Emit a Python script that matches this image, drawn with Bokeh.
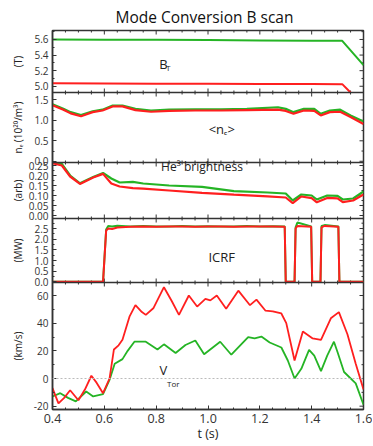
from math import pi
from bokeh.plotting import figure
from bokeh.layouts import row
from bokeh.models import Range1d, FixedTicker, NumeralTickFormatter, Label, Span
from bokeh.core.properties import value
from bokeh.embed import file_html
from bokeh.resources import INLINE

# ---------------- data ----------------
# B_T (T)
bt_t_green = [0.40, 0.60, 0.80, 1.00, 1.20, 1.40, 1.518, 1.60]
bt_green = [5.600, 5.597, 5.595, 5.592, 5.588, 5.585, 5.583, 5.27]
bt_t_red = [0.40, 0.60, 0.80, 1.00, 1.20, 1.40, 1.518, 1.55]
bt_red = [5.040, 5.036, 5.033, 5.032, 5.030, 5.028, 5.027, 4.92]

# <n_e> (10^20/m^3)
ne_t = [0.40, 0.442, 0.47, 0.51, 0.555, 0.593, 0.632, 0.67, 0.72, 0.78, 0.85, 0.95,
        1.05, 1.15, 1.27, 1.30, 1.33, 1.37, 1.41, 1.435, 1.47, 1.51, 1.55, 1.60]
ne_green = [1.39, 1.28, 1.20, 1.13, 1.22, 1.26, 1.36, 1.36, 1.28, 1.24, 1.26, 1.27,
            1.27, 1.28, 1.32, 1.28, 1.20, 1.28, 1.28, 1.16, 1.24, 1.26, 1.12, 0.97]
ne_red = [1.37, 1.26, 1.17, 1.10, 1.20, 1.24, 1.34, 1.34, 1.25, 1.21, 1.23, 1.24,
          1.24, 1.25, 1.26, 1.23, 1.16, 1.24, 1.23, 1.12, 1.20, 1.21, 1.08, 0.91]

# He3 brightness (arb)
he_t = [0.40, 0.436, 0.468, 0.506, 0.557, 0.595, 0.627, 0.659, 0.71, 0.75, 0.85, 0.977,
        1.10, 1.23, 1.30, 1.327, 1.36, 1.40, 1.42, 1.46, 1.50, 1.52, 1.56, 1.60]
he_green = [0.265, 0.258, 0.200, 0.161, 0.193, 0.213, 0.185, 0.165, 0.168, 0.160, 0.150, 0.143,
            0.122, 0.115, 0.110, 0.075, 0.105, 0.100, 0.080, 0.100, 0.098, 0.080, 0.085, 0.120]
he_red = [0.262, 0.250, 0.195, 0.158, 0.190, 0.208, 0.160, 0.145, 0.137, 0.134, 0.125, 0.113,
          0.104, 0.096, 0.090, 0.062, 0.095, 0.087, 0.066, 0.088, 0.086, 0.067, 0.075, 0.105]

# ICRF (MW)
icrf_t = [0.40, 0.595, 0.607, 0.615, 0.63, 0.65, 0.70, 0.75, 0.80, 0.85, 0.90, 0.95, 1.00,
          1.05, 1.10, 1.15, 1.20, 1.25, 1.296, 1.300, 1.334, 1.338, 1.345, 1.398, 1.402,
          1.434, 1.438, 1.45, 1.503, 1.507, 1.60]
icrf_green = [0, 0, 2.45, 2.62, 2.60, 2.63, 2.60, 2.62, 2.60, 2.60, 2.62, 2.60, 2.61,
              2.60, 2.60, 2.62, 2.60, 2.61, 2.60, 0, 0, 2.55, 2.78, 2.60, 0,
              0, 2.62, 2.66, 2.60, 0, 0]
icrf_red = [0, 0, 2.40, 2.50, 2.48, 2.55, 2.58, 2.60, 2.58, 2.60, 2.60, 2.58, 2.60,
            2.59, 2.58, 2.60, 2.59, 2.60, 2.58, 0, 0, 2.50, 2.62, 2.58, 0,
            0, 2.55, 2.62, 2.58, 0, 0]

# V_Tor (km/s)
vr_t = [0.40, 0.423, 0.445, 0.468, 0.50, 0.525, 0.55, 0.57, 0.595, 0.62, 0.637, 0.655,
        0.67, 0.697, 0.72, 0.745, 0.76, 0.79, 0.83, 0.86, 0.888, 0.926, 0.958, 0.99,
        1.009, 1.034, 1.07, 1.117, 1.162, 1.187, 1.222, 1.25, 1.283, 1.302, 1.334,
        1.366, 1.404, 1.436, 1.474, 1.505, 1.538, 1.57, 1.60]
vr = [-7, -18, -14, -8.5, -15.7, -8, 2, -3, -10.6, 0, 21, 24,
      28, 44.7, 53, 48, 46, 51, 66, 56, 46, 60, 52, 57.6,
      56.5, 60, 50.5, 63.5, 53, 57, 49, 48.5, 47, 40, 13,
      34, 29, 28, 43.5, 48, 32, 10.6, -8]
vg_t = [0.40, 0.43, 0.46, 0.49, 0.53, 0.557, 0.595, 0.62, 0.64, 0.67, 0.69, 0.716,
        0.76, 0.805, 0.83, 0.875, 0.913, 0.951, 0.985, 1.047, 1.09, 1.155, 1.18, 1.206,
        1.238, 1.283, 1.308, 1.334, 1.36, 1.39, 1.41, 1.436, 1.46, 1.486, 1.50, 1.525,
        1.57, 1.60]
vg = [-13, -10.6, -14, -16.5, -9.4, -13, -11.3, -1, 10.6, 14, 20, 26.6,
      26.6, 21, 24.7, 18.4, 24.2, 27.5, 17.5, 26.6, 17.2, 30, 29, 30.3,
      26, 22.4, 13, 0, 7, 20.7, 16.5, 5.4, 16.5, 26.6, 19, 4.7,
      -3.5, -19]

# ticks / labels
x_major = [0.4, 0.6, 0.8, 1.0, 1.2, 1.4, 1.6]
x_minor = [0.45, 0.5, 0.55, 0.65, 0.7, 0.75, 0.85, 0.9, 0.95, 1.05, 1.1, 1.15,
           1.25, 1.3, 1.35, 1.45, 1.5, 1.55]
bt_major = [5.0, 5.2, 5.4, 5.6]
bt_minor = [5.1, 5.3, 5.5, 5.7]
ne_major = [0.0, 0.5, 1.0, 1.5]
ne_minor = [0.25, 0.75, 1.25]
he_major = [0.00, 0.05, 0.10, 0.15, 0.20, 0.25]
he_minor = [0.025, 0.075, 0.125, 0.175, 0.225]
icrf_major = [0.0, 0.5, 1.0, 1.5, 2.0, 2.5]
icrf_minor = [0.25, 0.75, 1.25, 1.75, 2.25, 2.75]
v_major = [-20, 0, 20, 40, 60]
v_minor = [-10, 10, 30, 50]

title_text = "Mode Conversion B scan"
ylabels = ["(T)", "nₑ (10²⁰/m³)", "(arb)", "(MW)", "(km/s)"]
xlabel = "t (s)"

# ---------------- layout / style ----------------
RED = "#ff1f1f"
GREEN = "#25b425"
FONT = "Open Sans"
AX = "#333333"
X0, X1 = 0.4, 1.6
TOP, BOT, HT = 30, 37, 446
STRIP_W, MAIN_W = 25, 347

names = ["bt", "ne", "he", "icrf", "v"]
limits = [(4.92, 5.715), (-0.03, 1.68), (-0.015, 0.265), (-0.03, 2.97), (-22.4, 69.4)]
band_px = [62, 70, 56, 64, 127]          # relative panel heights, top -> bottom
fmts = ["{:.1f}", "{:.1f}", "{:.2f}", "{:.1f}", "{:.0f}"]
majors = [bt_major, ne_major, he_major, icrf_major, v_major]
minors = [bt_minor, ne_minor, he_minor, icrf_minor, v_minor]
H = sum(band_px)

# per-panel scales (extra y ranges mapped onto each band of the frame)
bands = {}
extra = {}
top_px = H
for name, h, (v0, v1) in zip(names, band_px, limits):
    lo, hi = top_px - h, top_px
    bands[name] = (lo, hi)
    k = (v1 - v0) / (hi - lo)
    extra[name] = Range1d(v0 - lo * k, v1 + (H - hi) * k)
    top_px -= h
base_y = Range1d(0, H)

p = figure(width=MAIN_W, height=HT, x_range=Range1d(X0, X1), y_range=base_y,
           output_backend="svg", toolbar_location=None,
           min_border_left=24, min_border_right=9, min_border_top=TOP, min_border_bottom=BOT)
p.extra_y_ranges = extra
p.grid.visible = False
p.outline_line_color = AX
p.outline_line_width = 1.5
p.background_fill_color = "white"
p.border_fill_color = "white"


def to_band(name, v):
    (v0, v1) = limits[names.index(name)]
    lo, hi = bands[name]
    return round(lo + (v - v0) / (v1 - v0) * (hi - lo), 4)


# left axis: one axis carrying every panel's ticks
maj_pos, min_pos, overrides = [], [], {}
for name, maj, mino, fmt in zip(names, majors, minors, fmts):
    for t in maj:
        pos = to_band(name, t)
        maj_pos.append(pos)
        overrides[pos] = fmt.format(t)
    for t in mino:
        min_pos.append(to_band(name, t))

ya = p.yaxis[0]
ya.ticker = FixedTicker(ticks=maj_pos, minor_ticks=min_pos)
ya.major_label_overrides = overrides
xa = p.xaxis[0]
xa.ticker = FixedTicker(ticks=x_major, minor_ticks=x_minor)
xa.formatter = NumeralTickFormatter(format="0.0")
xa.axis_label = xlabel
for ax in (ya, xa):
    ax.axis_line_color = AX
    ax.axis_line_width = 1.5
    ax.major_tick_line_color = AX
    ax.minor_tick_line_color = AX
    ax.major_tick_in = 4
    ax.major_tick_out = 0
    ax.minor_tick_in = 2
    ax.minor_tick_out = 0
    ax.major_label_text_font = FONT
    ax.major_label_text_color = "#333333"
    ax.axis_label_text_font = FONT
    ax.axis_label_text_font_style = "normal"
    ax.axis_label_text_color = "#222222"
ya.major_label_text_font_size = "10px"
ya.major_label_standoff = 4
xa.major_label_text_font_size = "12.5px"
xa.major_label_standoff = 4
xa.axis_label_text_font_size = "12.5px"
xa.axis_label_standoff = -1

# title
p.title.text = title_text
p.title.text_font = FONT
p.title.text_font_size = "15.5px"
p.title.text_font_style = "normal"
p.title.text_color = "#111111"
p.title.align = "left"
p.title.offset = 63
p.title.standoff = 6

# panel edges: separators, inward ticks on top/bottom/right
tk = dict(line_color=AX, line_width=1, length_units="screen")
for i, (name, maj, mino) in enumerate(zip(names, majors, minors)):
    v0, v1 = limits[i]
    if i < len(names) - 1:
        p.add_layout(Span(location=v0, dimension="width", y_range_name=name,
                          line_color=AX, line_width=1.5))
        p.ray(x=x_major, y=[v0] * len(x_major), length=4, angle=pi / 2, y_range_name=name, **tk)
        p.ray(x=x_minor, y=[v0] * len(x_minor), length=2, angle=pi / 2, y_range_name=name, **tk)
    p.ray(x=x_major, y=[v1] * len(x_major), length=4, angle=-pi / 2, y_range_name=name, **tk)
    p.ray(x=x_minor, y=[v1] * len(x_minor), length=2, angle=-pi / 2, y_range_name=name, **tk)
    p.ray(x=[X1] * len(maj), y=maj, length=4, angle=pi, y_range_name=name, **tk)
    p.ray(x=[X1] * len(mino), y=mino, length=2, angle=pi, y_range_name=name, **tk)

# zero line in V_Tor panel
p.add_layout(Span(location=0, dimension="width", y_range_name="v", line_color="#bbbbbb",
                  line_dash="2 2", line_width=1))

# traces
p.line(bt_t_green, bt_green, line_color=GREEN, line_width=2, y_range_name="bt")
p.line(bt_t_red, bt_red, line_color=RED, line_width=2, y_range_name="bt")
p.line(ne_t, ne_green, line_color=GREEN, line_width=2.2, y_range_name="ne")
p.line(ne_t, ne_red, line_color=RED, line_width=2.2, y_range_name="ne")
p.line(he_t, he_green, line_color=GREEN, line_width=2.2, y_range_name="he")
p.line(he_t, he_red, line_color=RED, line_width=2.2, y_range_name="he")
p.line(icrf_t, icrf_green, line_color=GREEN, line_width=2, y_range_name="icrf")
p.line(icrf_t, icrf_red, line_color=RED, line_width=2, y_range_name="icrf")
p.line(vg_t, vg, line_color=GREEN, line_width=1.8, y_range_name="v")
p.line(vr_t, vr, line_color=RED, line_width=1.8, y_range_name="v")


def lab(x, y, text, size, rng):
    p.add_layout(Label(x=x, y=y, text=text, text_font=FONT, text_font_size=size,
                       y_range_name=rng, text_align="center", text_baseline="middle",
                       text_color="#222222"))


lab(0.828, 5.29, "B", "13px", "bt")
lab(0.846, 5.235, "T", "8px", "bt")
lab(1.053, 0.80, "<nₑ>", "13px", "ne")
lab(0.977, 0.247, "He³ brightness", "12px", "he")
lab(1.053, 1.17, "ICRF", "13px", "icrf")
lab(0.828, 5.9, "V", "13px", "v")
lab(0.866, -3.5, "Tor", "8px", "v")

# narrow strip on the left carrying each panel's axis title
pl = figure(width=STRIP_W, height=HT, x_range=Range1d(0, 1), y_range=base_y,
            output_backend="svg", toolbar_location=None,
            x_axis_location=None, y_axis_location=None,
            min_border_left=0, min_border_right=0, min_border_top=TOP, min_border_bottom=BOT)
pl.extra_y_ranges = extra
pl.grid.visible = False
pl.outline_line_color = None
pl.background_fill_color = "white"
pl.border_fill_color = "white"
for name, lbl, (v0, v1) in zip(names, ylabels, limits):
    pl.text(x=[0.68], y=[(v0 + v1) / 2], text=[lbl], angle=pi / 2, y_range_name=name,
            text_font=value(FONT), text_font_size="10px", text_color="#222222",
            text_align="center", text_baseline="middle")

layout = row(pl, p)
open("out.html", "w").write(file_html(layout, INLINE))
